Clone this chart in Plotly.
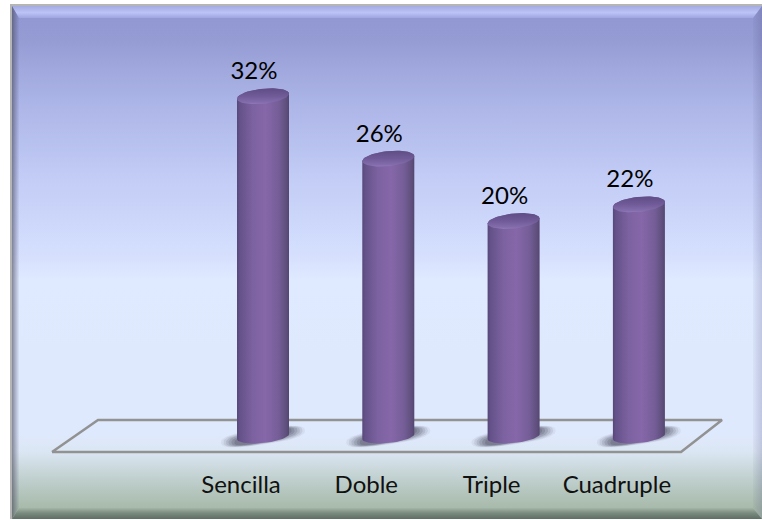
import numpy as np
import plotly.graph_objects as go

categories = ["Sencilla", "Doble", "Triple", "Cuadruple"]
values = [32, 26, 20, 21.6]
value_labels = ["32%", "26%", "20%", "22%"]

W, H = 762, 520
PX_PER_CAT = 125.3
PX_PER_PCT = 10.4
BASE_PX = 429
FOOT_PX = 436.5
PLOT_BOTTOM_PX = 468
FIRST_PX = 263
R_X = 26 / PX_PER_CAT
R_Y = 7.5 / PX_PER_PCT
TILT = 2.5 / PX_PER_PCT
FOOT = (BASE_PX - FOOT_PX) / PX_PER_PCT
LABEL_DX = -9 / PX_PER_CAT
LABEL_DY = 11 / PX_PER_PCT
TICK_DX = -22 / PX_PER_CAT

xr = [-FIRST_PX / PX_PER_CAT, (W - FIRST_PX) / PX_PER_CAT]
yr = [-(PLOT_BOTTOM_PX - BASE_PX) / PX_PER_PCT, BASE_PX / PX_PER_PCT]

fig = go.Figure()


def poly(pts, color=None, grad=None, xa="x", ya="y"):
    xs = [p[0] for p in pts] + [pts[0][0]]
    ys = [p[1] for p in pts] + [pts[0][1]]
    kw = dict(x=xs, y=ys, xaxis=xa, yaxis=ya, mode="lines", fill="toself",
              hoverinfo="skip", showlegend=False,
              line=dict(width=0, color="rgba(0,0,0,0)"))
    if grad:
        kw["fillgradient"] = grad
    else:
        kw["fillcolor"] = color
    fig.add_trace(go.Scatter(**kw))


# ---------- panel (pixel axes x/y) ----------
L, T, R, B = 10, 4, 762, 519
IL, IT, IR, IB = 19, 18, 753, 508


def vstops(stops, y0, y1):
    return [[(y - y0) / (y1 - y0), c] for y, c in stops]


panel = [(519, "#a8baaa"), (508, "#a8baaa"), (490, "#b6c7c0"), (470, "#c9d7da"), (452, "#dbe6f3"), (435, "#dfe9fd"),
         (280, "#dfe9ff"), (250, "#d4defd"), (180, "#c3cdf6"), (100, "#abb4e6"), (40, "#959cd4"), (18, "#9298d2"),
         (6, "#9298d2")]
poly([(L, T), (R, T), (R, B), (L, B)], "#b5b5b5")
poly([(L + 2, T + 2), (R, T + 2), (R, B), (L + 2, B)],
     grad=dict(type="vertical", colorscale=vstops(panel, 519, 6)))
# bevels
poly([(L + 2, T + 2), (R, T + 2), (IR, IT), (IL, IT)],
     grad=dict(type="vertical", colorscale=[[0, "#9ea5e0"], [0.45, "#bcc3f5"], [1, "#a3aae2"]]))
poly([(L + 2, T + 2), (IL, IT), (IL, IB), (L + 2, B)],
     grad=dict(type="horizontal", colorscale=[[0, "rgba(70,70,85,0.6)"], [1, "rgba(70,70,110,0.04)"]]))
poly([(R, T + 2), (R, B), (IR, IB), (IR, IT)],
     grad=dict(type="horizontal", colorscale=[[0, "rgba(60,60,110,0.04)"], [1, "rgba(60,60,110,0.2)"]]))
poly([(L + 2, B), (IL, IB), (IR, IB), (R, B)],
     grad=dict(type="vertical", colorscale=[[0, "#5f6e66"], [0.5, "#77887c"], [1, "#a3b5a5"]]))

# ---------- chart (axes x2/y2) ----------
# floor outline
fx = [(px - FIRST_PX) / PX_PER_CAT for px in (52, 98, 722, 681)]
fy = [(BASE_PX - px) / PX_PER_PCT for px in (452, 420, 420, 452)]
fig.add_trace(go.Scatter(x=fx + fx[:1], y=fy + fy[:1], xaxis="x2", yaxis="y2", mode="lines",
                         line=dict(color="#929292", width=2.5), hoverinfo="skip", showlegend=False))

t = np.linspace(0, 2 * np.pi, 81)
ct = np.sign(np.cos(t)) * np.abs(np.cos(t)) ** 0.75
st = np.sign(np.sin(t)) * np.abs(np.sin(t)) ** 0.75
for i, v in enumerate(values):
    # soft tilted shadow at the foot of the cylinder
    for scale, alpha in [(1.0, 0.08), (0.94, 0.12), (0.88, 0.16), (0.82, 0.2), (0.75, 0.25), (0.68, 0.3)]:
        sx = i + 42 / PX_PER_CAT * scale * ct
        sy = (FOOT + (8 / PX_PER_PCT) * scale * st + 6 / PX_PER_PCT * ct)
        poly(list(zip(sx, sy)), f"rgba(85,85,105,{alpha})", xa="x2", ya="y2")

    # cylinder body
    lower = np.linspace(np.pi, 2 * np.pi, 31)
    upper = np.linspace(0, np.pi, 31)
    pts = [(i + R_X * np.cos(a), FOOT + R_Y * 0.87 * np.sin(a) + TILT * np.cos(a)) for a in lower]
    pts += [(i + R_X * np.cos(a), v + R_Y * np.sin(a) + TILT * np.cos(a)) for a in upper]
    poly(pts, xa="x2", ya="y2", grad=dict(type="horizontal", colorscale=[
        [0, "#574878"], [0.06, "#65528a"], [0.3, "#7c62a0"], [0.55, "#8667a9"],
        [0.8, "#755e98"], [0.94, "#60507e"], [1, "#544670"]]))
    # top cap
    cap = [(i + R_X * np.cos(a), v + R_Y * np.sin(a) + TILT * np.cos(a)) for a in t]
    poly(cap, xa="x2", ya="y2", grad=dict(type="vertical", colorscale=[
        [0, "#9079b8"], [0.12, "#836cab"], [0.5, "#705b98"], [1, "#5f4d85"]]))

fig.add_trace(go.Scatter(
    x=[i + LABEL_DX for i in range(len(values))], y=[v + LABEL_DY for v in values],
    xaxis="x2", yaxis="y2",
    mode="text", text=value_labels, textposition="top center",
    textfont=dict(family="Lato", size=24, color="#000000"),
    hoverinfo="skip", showlegend=False))

noaxis = dict(visible=False, fixedrange=True)
fig.update_layout(
    width=W, height=H, margin=dict(l=0, r=0, t=0, b=0),
    paper_bgcolor="#ffffff", plot_bgcolor="rgba(0,0,0,0)", showlegend=False,
    font=dict(family="Lato"),
    xaxis=dict(noaxis, domain=[0, 1], range=[0, W]),
    yaxis=dict(noaxis, domain=[0, 1], range=[H, 0]),
    xaxis2=dict(domain=[0, 1], range=xr, anchor="y2", fixedrange=True, showgrid=False, zeroline=False,
                showline=False, ticks="", tickmode="array",
                tickvals=[i + TICK_DX for i in range(len(categories))], ticktext=categories,
                tickfont=dict(family="Lato", size=24, color="#111111")),
    yaxis2=dict(noaxis, domain=[(H - PLOT_BOTTOM_PX) / H, 1], range=yr, anchor="x2"),
)
fig.write_html("out.html", config={"displayModeBar": False},
               post_script="document.body.style.margin='0';document.body.style.overflow='hidden';")
